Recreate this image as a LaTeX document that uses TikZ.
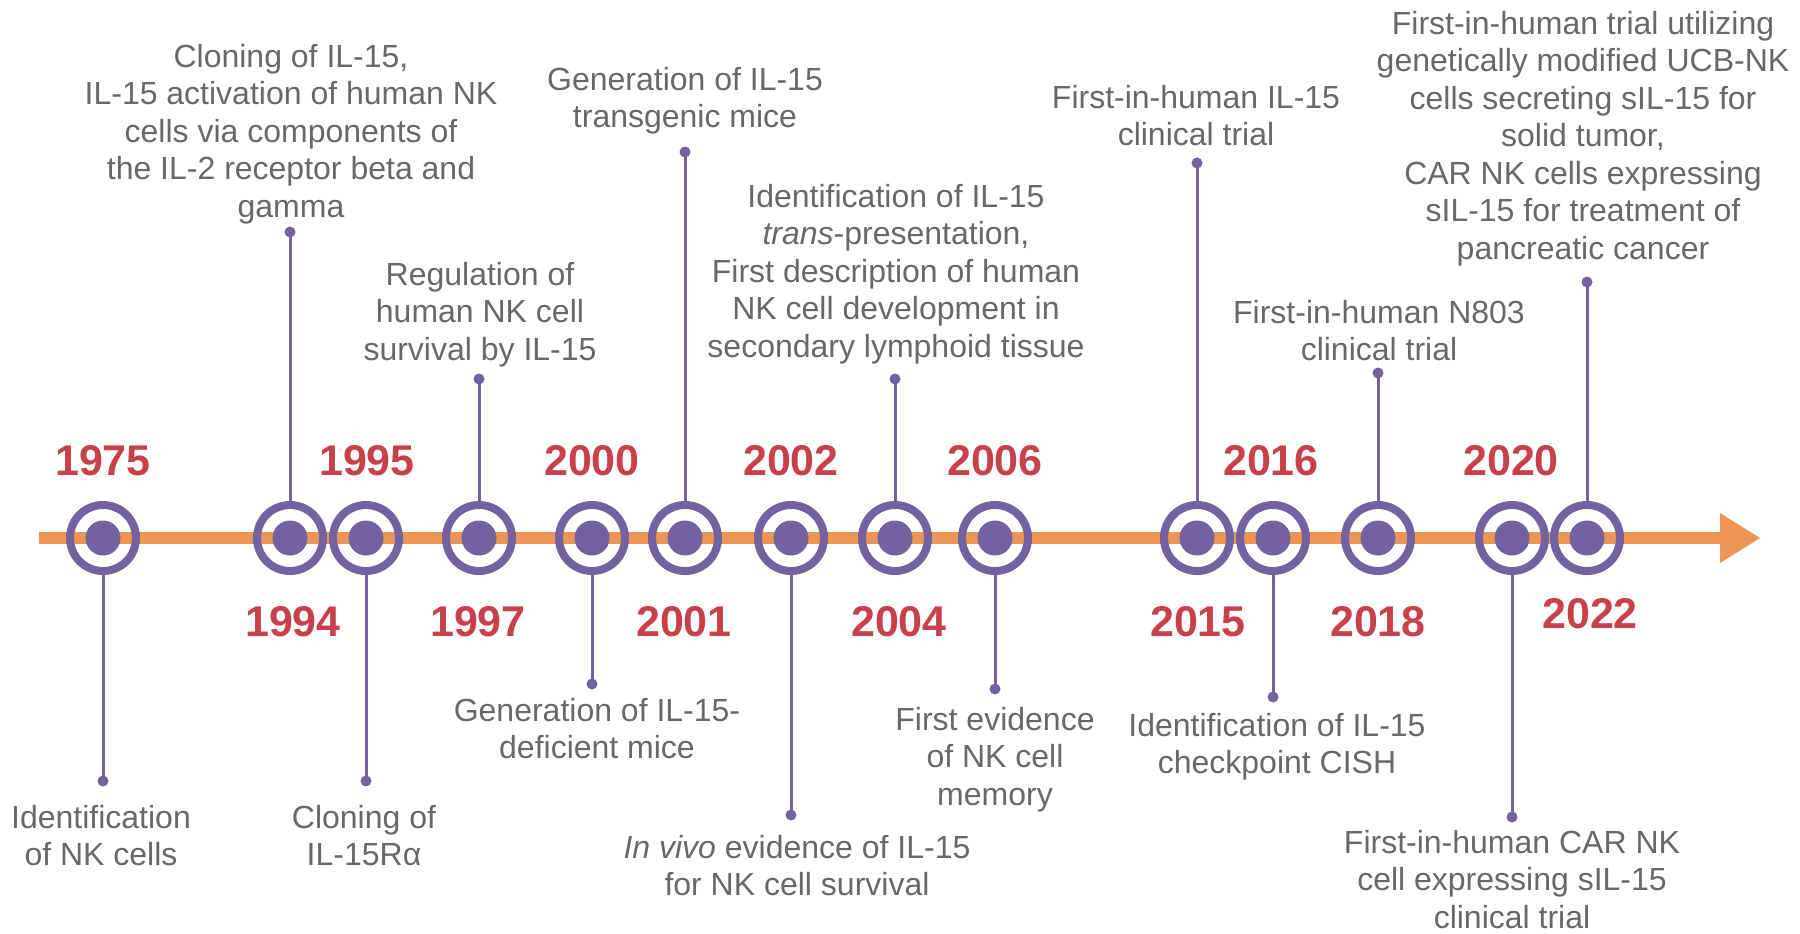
\documentclass[tikz,border=0pt]{standalone}
\usepackage{fontspec}
\setmainfont{Liberation Sans}
\definecolor{tlpurple}{HTML}{7462A0}
\definecolor{tlorange}{HTML}{EC9555}
\definecolor{tlred}{HTML}{C8404A}
\definecolor{tlgrey}{HTML}{686868}
\begin{document}
\begin{tikzpicture}[x=1pt,y=-1pt,
  ring/.style={circle,draw=tlpurple,line width=8pt,minimum size=66pt,inner sep=0pt},
  core/.style={circle,fill=tlpurple,minimum size=35pt,inner sep=0pt},
  enddot/.style={circle,fill=tlpurple,minimum size=11pt,inner sep=0pt},
  stem/.style={draw=tlpurple,line width=3pt},
  year/.style={text=tlred,font=\fontsize{43}{43}\selectfont\bfseries,inner sep=0pt,anchor=center},
  lab/.style={text=tlgrey,font=\fontsize{32}{37.5}\selectfont,align=center,inner sep=0pt},
  axis/.style={draw=tlorange,line width=12pt}
]
\useasboundingbox (0,0) rectangle (1800,934);

% axis
\coordinate (axstart) at (39,538);
\coordinate (axend) at (1722,538);
\coordinate (headtop) at (1720,513);
\coordinate (headtip) at (1760,538);
\coordinate (headbot) at (1720,563);
\draw[axis] (axstart) -- (axend);
\fill[tlorange] (headtop) -- (headtip) -- (headbot) -- cycle;

% rings and cores
\foreach \n/\x in {1975/103,1994/290,1995/366,1997/479,2000/592,2001/685,2002/791,2004/895,2006/995,2015/1197,2016/1273,2018/1378,2020/1512,2022/1587}{
  \node[ring] (c\n) at (\x,538) {};
  \node[core] (k\n) at (\x,538) {};
}

% end dots
\node[enddot] (d1975) at (103,781) {};
\node[enddot] (d1994) at (290,232) {};
\node[enddot] (d1995) at (366,781) {};
\node[enddot] (d1997) at (479,379) {};
\node[enddot] (d2000) at (592,684) {};
\node[enddot] (d2001) at (685,152) {};
\node[enddot] (d2002) at (791,815) {};
\node[enddot] (d2004) at (895,379) {};
\node[enddot] (d2006) at (995,689) {};
\node[enddot] (d2015) at (1197,163) {};
\node[enddot] (d2016) at (1273,697) {};
\node[enddot] (d2018) at (1378,373) {};
\node[enddot] (d2020) at (1512,817) {};
\node[enddot] (d2022) at (1587,282) {};

% stems
\foreach \n in {1975,1995,2000,2002,2006,2016,2020}{
  \draw[stem] (c\n.south) -- (d\n.center);
}
\foreach \n in {1994,1997,2001,2004,2015,2018,2022}{
  \draw[stem] (c\n.north) -- (d\n.center);
}

% years
\node[year] (y1975) at (103,461) {1975};
\node[year] (y1994) at (293,622) {1994};
\node[year] (y1995) at (367,461) {1995};
\node[year] (y1997) at (478,622) {1997};
\node[year] (y2000) at (592,461) {2000};
\node[year] (y2001) at (684,622) {2001};
\node[year] (y2002) at (791,461) {2002};
\node[year] (y2004) at (899,622) {2004};
\node[year] (y2006) at (995,461) {2006};
\node[year] (y2015) at (1198,622) {2015};
\node[year] (y2016) at (1271,461) {2016};
\node[year] (y2018) at (1378,622) {2018};
\node[year] (y2020) at (1511,461) {2020};
\node[year] (y2022) at (1590,614) {2022};

% labels
\node[lab,anchor=north] (t1975) at (101,805) {Identification\\of NK cells};
\node[lab,anchor=north] (t1994) at (291,44) {Cloning of IL-15,\\IL-15 activation of human NK\\cells via components of\\the IL-2 receptor beta and\\gamma};
\node[lab,anchor=north] (t1995) at (364,805) {Cloning of\\IL-15Rα};
\node[lab,anchor=north] (t1997) at (480,262) {Regulation of\\human NK cell\\survival by IL-15};
\node[lab,anchor=north] (t2000) at (597,698) {Generation of IL-15-\\deficient mice};
\node[lab,anchor=north] (t2001) at (685,67) {Generation of IL-15\\transgenic mice};
\node[lab,anchor=north] (t2002) at (797,835) {\textit{In vivo} evidence of IL-15\\for NK cell survival};
\node[lab,anchor=north] (t2004) at (896,184) {Identification of IL-15\\\textit{trans}-presentation,\\First description of human\\NK cell development in\\secondary lymphoid tissue};
\node[lab,anchor=north] (t2006) at (995,707) {First evidence\\of NK cell\\memory};
\node[lab,anchor=north] (t2015) at (1196,85) {First-in-human IL-15\\clinical trial};
\node[lab,anchor=north] (t2016) at (1277,713) {Identification of IL-15\\checkpoint CISH};
\node[lab,anchor=north] (t2018) at (1379,300) {First-in-human N803\\clinical trial};
\node[lab,anchor=north] (t2020) at (1512,830) {First-in-human CAR NK\\cell expressing sIL-15\\clinical trial};
\node[lab,anchor=north] (t2022) at (1583,11) {First-in-human trial utilizing\\genetically modified UCB-NK\\cells secreting sIL-15 for\\solid tumor,\\CAR NK cells expressing\\sIL-15 for treatment of\\pancreatic cancer};
\end{tikzpicture}
\end{document}
